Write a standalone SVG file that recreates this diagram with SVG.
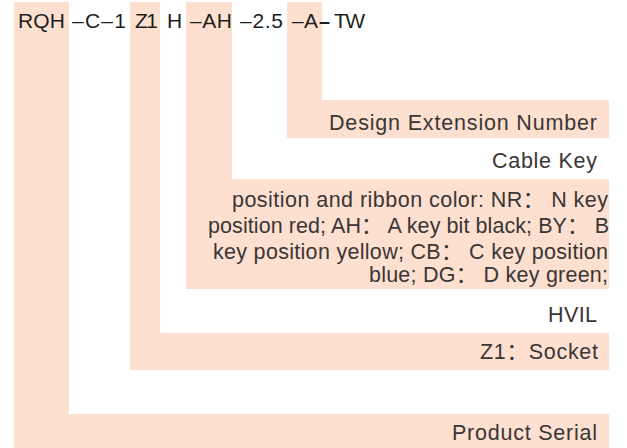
<svg xmlns="http://www.w3.org/2000/svg" width="627" height="448" viewBox="0 0 627 448">
<style>
.band{fill:#fde0cf}
.code{font-family:"Liberation Sans",Arial,sans-serif;font-size:21px;fill:#1e1e1e}
.lbl{font-family:"Liberation Sans","Noto Sans CJK SC",Arial,sans-serif;font-size:21.5px;fill:#3a3636}
</style>
<rect width="627" height="448" fill="#ffffff"/>
<g id="connectors">
<path class="band" d="M14 2H69V414H609V448H14Z"/>
<path class="band" d="M130 2H160V333H609V370H130Z"/>
<path class="band" d="M186 2H232V179H609V289H186Z"/>
<path class="band" d="M287 2H322V100H609V138H287Z"/>
</g>
<g id="code">
<text class="code" x="18" y="28" textLength="47" lengthAdjust="spacing">RQH</text>
<text class="code" x="72" y="28" textLength="54" lengthAdjust="spacing">–C–1</text>
<text class="code" x="135" y="28" textLength="23" lengthAdjust="spacing">Z1</text>
<text class="code" x="167" y="28" textLength="13" lengthAdjust="spacing">H</text>
<text class="code" x="190" y="28" textLength="42" lengthAdjust="spacing">–AH</text>
<text class="code" x="240" y="28" textLength="43" lengthAdjust="spacing">–2.5</text>
<text class="code" x="292" y="28" textLength="26" lengthAdjust="spacing">–A</text>
<text class="code" x="319" y="28" font-weight="bold" textLength="11" lengthAdjust="spacingAndGlyphs">–</text>
<text class="code" x="334" y="28" textLength="31" lengthAdjust="spacing">TW</text>
</g>
<g id="node-design">
<text class="lbl" x="329" y="130" textLength="268" lengthAdjust="spacing">Design Extension Number</text>
</g>
<g id="node-cable-key">
<text class="lbl" x="492" y="168" textLength="105" lengthAdjust="spacing">Cable Key</text>
<text class="lbl" x="232" y="207" textLength="376" lengthAdjust="spacing">position and ribbon color: NR： N key</text>
<text class="lbl" x="208" y="233" textLength="401" lengthAdjust="spacing">position red; AH： A key bit black; BY： B</text>
<text class="lbl" x="213" y="259" textLength="395" lengthAdjust="spacing">key position yellow; CB： C key position</text>
<text class="lbl" x="369" y="282" textLength="239" lengthAdjust="spacing">blue; DG： D key green;</text>
</g>
<g id="node-hvil">
<text class="lbl" x="548" y="322" textLength="49" lengthAdjust="spacing">HVIL</text>
</g>
<g id="node-socket">
<text class="lbl" x="480" y="359" textLength="118" lengthAdjust="spacing">Z1：Socket</text>
</g>
<g id="node-product">
<text class="lbl" x="452" y="440" textLength="145" lengthAdjust="spacing">Product Serial</text>
</g>
</svg>
